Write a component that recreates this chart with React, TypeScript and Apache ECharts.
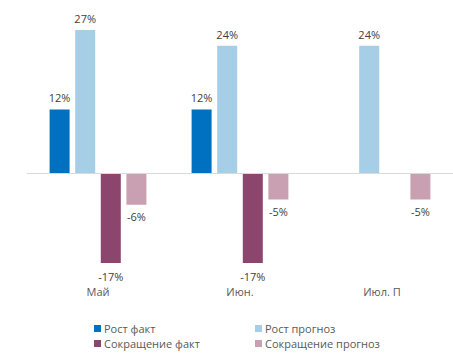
import React, { useEffect, useRef } from "react";
import * as echarts from "echarts";

const categories = ["Май", "Июн.", "Июл. П"];
const growthFact = [12, 12, null];
const growthForecast = [27, 24, 24];
const cutFact = [-17, -17, null];
const cutForecast = [-6, -5, -5];
const seriesNames = ["Рост факт", "Рост прогноз", "Сокращение факт", "Сокращение прогноз"];
const colors = ["#0070C0", "#A6CEE6", "#8C466E", "#C9A0B1"];

const FONT = "'Open Sans', 'Noto Sans', sans-serif";

export default function App() {
  const ref = useRef<HTMLDivElement>(null);
  useEffect(() => {
    if (!ref.current) return;
    const chart = echarts.init(ref.current, undefined, { renderer: "svg" });
    const values = [growthFact, growthForecast, cutFact, cutForecast];
    const legendBase = {
      orient: "vertical",
      top: 318,
      height: 40,
      itemWidth: 7,
      itemHeight: 7,
      itemGap: 4,
      icon: "rect",
      textStyle: { color: "#595959", fontSize: 11, fontFamily: FONT, padding: [0, 0, 0, -2] },
    };
    chart.setOption({
      animation: false,
      grid: { left: 27, right: 0, top: 14, bottom: 75, containLabel: false },
      xAxis: {
        type: "category",
        data: categories,
        axisLine: { onZero: false, show: false },
        axisTick: { show: false },
        axisLabel: { color: "#595959", fontSize: 11, fontFamily: FONT, margin: 7 },
      },
      yAxis: {
        type: "value",
        min: -20,
        max: 30,
        show: false,
        splitLine: { show: false },
      },
      legend: [
        { ...legendBase, data: [seriesNames[0], seriesNames[2]], left: 89 },
        { ...legendBase, data: [seriesNames[1], seriesNames[3]], left: 250 },
      ],
      series: seriesNames.map((name, i) => ({
        name,
        type: "bar",
        data: values[i],
        barWidth: 20,
        barGap: "28%",
        barCategoryGap: "32%",
        itemStyle: { color: colors[i] },
        label: {
          show: true,
          position: i < 2 ? "top" : "bottom",
          distance: i === 2 ? 8 : 6,
          formatter: (p: any) => p.value + "%",
          color: "#404040",
          fontSize: 11,
          fontFamily: FONT,
        },
        ...(i === 0
          ? {
              markLine: {
                silent: true,
                symbol: "none",
                label: { show: false },
                lineStyle: { color: "#D9D9D9", type: "solid", width: 1 },
                data: [{ yAxis: 0 }],
              },
            }
          : {}),
      })),
    });
    return () => chart.dispose();
  }, []);
  return <div ref={ref} style={{ width: 453, height: 354, position: "absolute", left: 0, top: 0 }} />;
}
